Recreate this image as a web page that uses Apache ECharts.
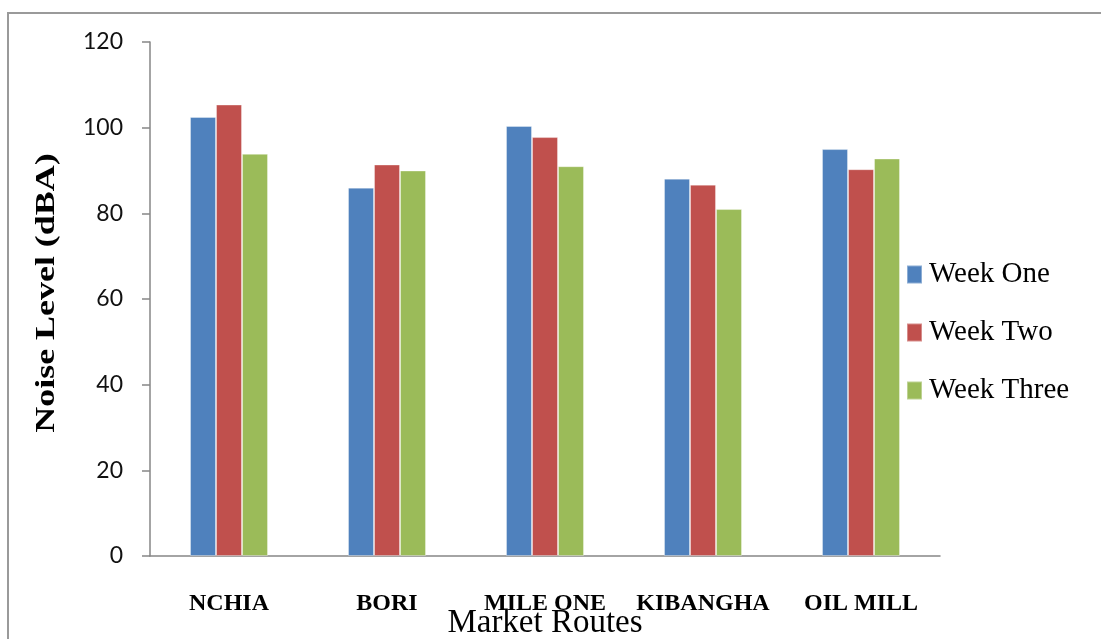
<!DOCTYPE html>
<html>
<head>
<meta charset="utf-8">
<title>Noise Level by Market Route</title>
<script src="https://cdn.jsdelivr.net/npm/echarts@6/dist/echarts.min.js"></script>
<style>
  html, body { margin: 0; padding: 0; background: #ffffff; }
  #chart { width: 1101px; height: 639px; }
</style>
</head>
<body>
<div id="chart"></div>
<script>
// Market routes and weekly noise measurements (dBA)
const routes = ['NCHIA', 'BORI', 'MILE ONE', 'KIBANGHA', 'OIL MILL'];
const weekOne = [102.5, 86.0, 100.4, 88.1, 95.0];
const weekTwo = [105.4, 91.4, 97.8, 86.7, 90.3];
const weekThree = [93.9, 90.0, 91.0, 81.0, 92.8];
const seriesNames = ['Week One', 'Week Two', 'Week Three'];
const yTicks = { min: 0, max: 120, interval: 20 };

const colors = ['#4F81BD', '#C0504D', '#9BBB59'];
const serif = '"Liberation Serif", "Times New Roman", serif';

const chart = echarts.init(document.getElementById('chart'), null, { renderer: 'canvas' });

function barSeries(name, values, color) {
  return {
    name: name,
    type: 'bar',
    data: values,
    barWidth: 26,
    barGap: '0%',
    itemStyle: { color: color, borderColor: 'rgba(255,255,255,0.35)', borderWidth: 1 },
    emphasis: { disabled: true }
  };
}

chart.setOption({
  animation: false,
  backgroundColor: '#ffffff',
  color: colors,
  grid: { left: 150, right: 161, top: 42, bottom: 83, containLabel: false, outerBoundsMode: 'none' },
  legend: {
    orient: 'vertical',
    left: 901,
    top: 255,
    icon: 'rect',
    itemWidth: 15,
    itemHeight: 18,
    itemGap: 29,
    textStyle: { fontFamily: serif, fontSize: 29, color: '#000000', padding: [0, 0, 0, 2] },
    data: seriesNames
  },
  xAxis: {
    type: 'category',
    data: routes,
    axisLine: { show: true, lineStyle: { color: '#868686', width: 1.5 } },
    axisTick: { show: false },
    axisLabel: {
      interval: 0,
      margin: 36,
      fontFamily: serif,
      fontWeight: 'bold',
      fontSize: 24,
      color: '#000000'
    },
    name: 'Market Routes',
    nameLocation: 'middle',
    nameGap: 51,
    nameMoveOverlap: false,
    nameTextStyle: { fontFamily: serif, fontSize: 33, color: '#000000' }
  },
  yAxis: {
    type: 'value',
    min: yTicks.min,
    max: yTicks.max,
    interval: yTicks.interval,
    axisLine: { show: true, lineStyle: { color: '#868686', width: 1.5 } },
    axisTick: { show: true, length: 8, inside: false, lineStyle: { color: '#868686', width: 1.5 } },
    splitLine: { show: false },
    axisLabel: {
      margin: 27,
      fontFamily: 'Lato, "Open Sans", sans-serif',
      fontSize: 23,
      color: '#111111'
    }
  },
  graphic: [
    {
      type: 'rect',
      silent: true,
      shape: { x: 8, y: 13, width: 1200, height: 700 },
      style: { fill: 'none', stroke: '#9a9a9a', lineWidth: 2 }
    },
    {
      type: 'text',
      silent: true,
      x: 47,
      y: 293,
      rotation: Math.PI / 2,
      scaleX: 1.33,
      style: {
        text: 'Noise Level (dBA)',
        font: 'bold 27px ' + serif,
        fill: '#000000',
        align: 'center',
        verticalAlign: 'middle'
      }
    }
  ],
  series: [
    barSeries(seriesNames[0], weekOne, colors[0]),
    barSeries(seriesNames[1], weekTwo, colors[1]),
    barSeries(seriesNames[2], weekThree, colors[2])
  ]
});
</script>
</body>
</html>
